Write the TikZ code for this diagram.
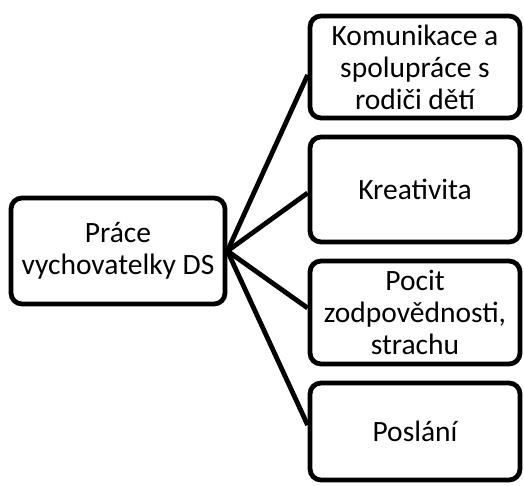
\documentclass[tikz,border=0pt]{standalone}
\usepackage{fontspec}
\setmainfont{Carlito}
\begin{document}
\begin{tikzpicture}[x=1pt,y=1pt,
  box/.style={draw=black, line width=4.8pt, rounded corners=11pt, fill=white,
    align=center, inner sep=0pt, font=\fontsize{29.5}{32}\selectfont},
  link/.style={draw=black, line width=4.8pt}]
  \useasboundingbox (0,0) rectangle (524,485);
  % root on the left
  \node[box, minimum width=214pt, minimum height=106pt] (root) at (118,234)
    {Práce\\vychovatelky DS};
  % four children in a column on the right
  \node[box, minimum width=210pt, minimum height=102pt] (c1) at (415,418)
    {Komunikace a\\spolupráce s\\rodiči dětí};
  \node[box, minimum width=210pt, minimum height=105pt] (c2) at (415,295.5)
    {Kreativita};
  \node[box, minimum width=210pt, minimum height=103pt] (c3) at (415,172.5)
    {Pocit\\zodpovědnosti,\\strachu};
  \node[box, minimum width=210pt, minimum height=97pt] (c4) at (415,53.5)
    {Poslání};
  % connectors
  \draw[link] (root.east) -- ([yshift=-8pt]c1.west);
  \draw[link] (root.east) -- ([yshift=-3.5pt]c2.west);
  \draw[link] (root.east) -- ([yshift=4.5pt]c3.west);
  \draw[link] (root.east) -- ([yshift=6.5pt]c4.west);
\end{tikzpicture}
\end{document}
